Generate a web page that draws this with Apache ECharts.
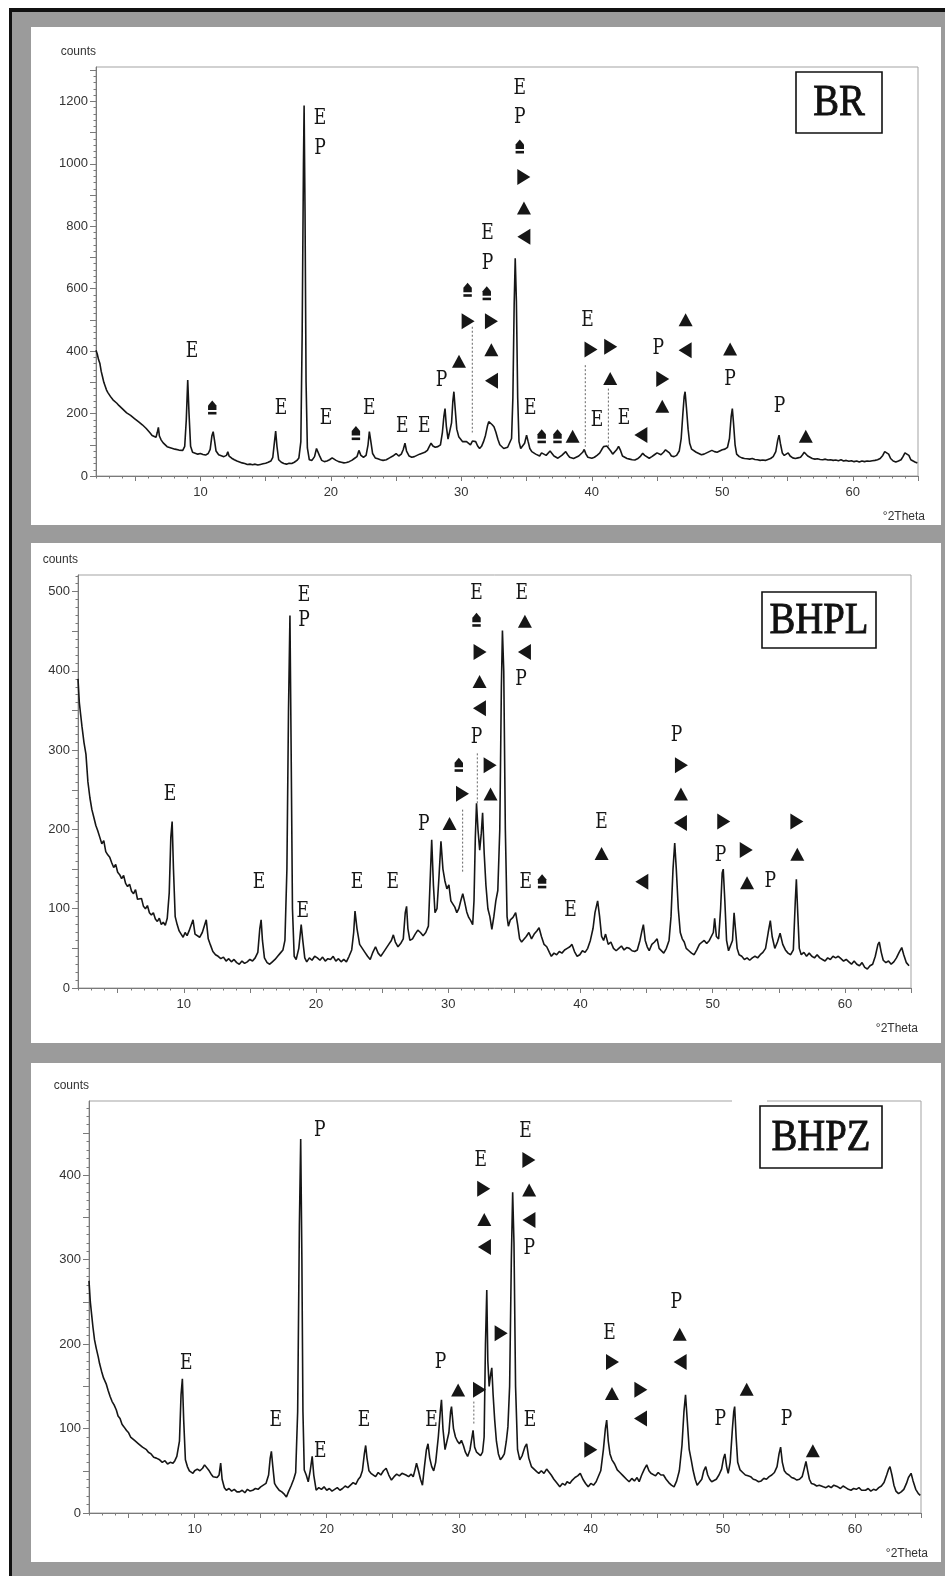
<!DOCTYPE html>
<html>
<head>
<meta charset="utf-8">
<script src="https://cdn.jsdelivr.net/npm/echarts@6/dist/echarts.min.js"></script>
<style>
  html, body { margin: 0; padding: 0; background: #fff; }
  #chart { width: 945px; height: 1576px; }
</style>
</head>
<body>
<div id="chart"></div>
<script>
// ---- Diffractogram BR: [2theta (deg), counts] ----
const brScan = [
[2.0,403],[2.1,390],[2.2,372],[2.3,360],[2.4,335],[2.5,318],[2.6,300],[2.7,288],[2.8,276],[2.9,268],
[3.0,262],[3.1,255],[3.2,250],[3.3,244],[3.45,238],[3.6,233],[3.75,226],[3.9,220],[4.05,214],[4.2,210],
[4.35,202],[4.5,198],[4.65,194],[4.8,188],[4.95,184],[5.1,178],[5.25,174],[5.4,169],[5.55,164],[5.7,158],
[5.85,152],[6.0,145],[6.15,138],[6.3,130],[6.45,126],[6.6,124],[6.7,140],[6.78,156],[6.86,128],[7.0,115],
[7.15,106],[7.3,100],[7.45,94],[7.6,96],[7.75,90],[7.9,92],[8.05,86],[8.2,88],[8.35,83],[8.5,85],
[8.65,82],[8.8,95],[8.92,180],[9.03,307],[9.13,200],[9.25,95],[9.4,76],[9.6,73],[9.8,70],[10.0,72],
[10.2,69],[10.4,67],[10.6,72],[10.75,85],[10.88,128],[10.98,142],[11.08,115],[11.2,80],[11.4,68],[11.6,65],
[11.8,62],[12.0,66],[12.1,78],[12.2,64],[12.4,57],[12.6,52],[12.8,48],[13.0,45],[13.2,42],[13.4,40],
[13.6,37],[13.8,38],[14.0,36],[14.2,38],[14.4,35],[14.6,37],[14.8,39],[15.0,41],[15.2,44],[15.4,48],
[15.55,60],[15.68,110],[15.77,144],[15.87,95],[16.0,52],[16.2,44],[16.4,40],[16.6,38],[16.8,41],[17.0,40],
[17.2,44],[17.4,50],[17.55,58],[17.7,110],[17.8,450],[17.9,1000],[17.95,1187],[18.02,850],[18.1,300],[18.2,90],
[18.35,52],[18.55,50],[18.75,62],[18.9,88],[19.0,94],[19.12,66],[19.3,50],[19.5,46],[19.7,48],[19.9,52],
[20.1,58],[20.25,60],[20.4,50],[20.6,46],[20.8,44],[21.0,42],[21.2,43],[21.4,46],[21.6,50],[21.8,56],
[22.0,62],[22.15,82],[22.3,66],[22.5,60],[22.7,66],[22.85,100],[22.95,142],[23.05,115],[23.2,72],[23.4,58],
[23.6,55],[23.8,52],[24.0,50],[24.25,52],[24.5,58],[24.75,64],[25.0,72],[25.2,64],[25.4,70],[25.55,85],
[25.68,105],[25.8,80],[26.0,64],[26.2,60],[26.4,62],[26.6,66],[26.8,70],[27.0,73],[27.2,76],[27.4,82],
[27.55,95],[27.68,105],[27.82,96],[28.0,92],[28.2,94],[28.4,100],[28.55,140],[28.66,190],[28.75,216],[28.85,160],
[28.98,118],[29.1,120],[29.25,170],[29.35,240],[29.43,270],[29.52,220],[29.65,150],[29.8,126],[29.95,120],[30.1,110],
[30.25,104],[30.4,110],[30.55,106],[30.7,100],[30.85,112],[30.97,118],[31.1,110],[31.25,96],[31.4,88],[31.55,95],
[31.7,110],[31.85,130],[32.0,160],[32.1,174],[32.22,168],[32.35,165],[32.5,158],[32.65,140],[32.8,118],[32.95,100],
[33.1,94],[33.25,88],[33.4,85],[33.55,92],[33.7,98],[33.85,120],[33.95,250],[34.05,550],[34.13,697],[34.22,560],
[34.32,250],[34.42,110],[34.55,88],[34.7,92],[34.85,105],[35.0,131],[35.12,110],[35.25,88],[35.4,78],[35.55,72],
[35.7,70],[35.85,66],[36.0,64],[36.15,74],[36.3,70],[36.5,66],[36.65,72],[36.8,80],[36.95,72],[37.1,64],
[37.25,60],[37.4,57],[37.55,62],[37.7,66],[37.85,72],[38.0,78],[38.15,68],[38.3,60],[38.45,57],[38.6,56],
[38.8,60],[39.0,64],[39.15,70],[39.3,76],[39.42,85],[39.55,70],[39.7,60],[39.85,56],[40.0,57],[40.2,60],
[40.4,66],[40.6,73],[40.75,84],[40.9,94],[41.0,99],[41.15,96],[41.3,94],[41.45,80],[41.6,70],[41.75,74],
[41.9,84],[42.05,95],[42.2,82],[42.35,64],[42.5,58],[42.7,56],[42.9,54],[43.1,52],[43.3,51],[43.5,55],
[43.7,62],[43.9,73],[44.05,66],[44.2,60],[44.4,57],[44.6,62],[44.8,68],[45.0,74],[45.15,70],[45.3,68],
[45.5,76],[45.65,84],[45.8,90],[45.95,74],[46.1,64],[46.3,62],[46.5,66],[46.7,80],[46.85,120],[46.98,200],
[47.08,255],[47.15,270],[47.25,220],[47.38,150],[47.5,105],[47.65,86],[47.8,80],[48.0,76],[48.2,72],[48.4,68],
[48.6,70],[48.8,74],[49.0,78],[49.2,82],[49.4,78],[49.6,76],[49.8,80],[50.0,84],[50.2,86],[50.4,92],
[50.55,120],[50.68,190],[50.77,216],[50.86,170],[50.98,100],[51.1,70],[51.3,62],[51.5,58],[51.7,56],[51.9,55],
[52.1,54],[52.3,56],[52.5,53],[52.7,52],[52.9,50],[53.1,51],[53.3,50],[53.5,53],[53.7,56],[53.9,62],
[54.1,78],[54.25,115],[54.35,131],[54.45,105],[54.6,74],[54.75,66],[54.9,72],[55.05,74],[55.2,64],[55.4,58],
[55.6,56],[55.8,58],[56.0,60],[56.15,68],[56.28,76],[56.4,72],[56.55,64],[56.7,58],[56.9,56],[57.1,54],
[57.3,55],[57.5,53],[57.7,52],[57.9,54],[58.1,51],[58.3,52],[58.5,50],[58.7,51],[58.9,49],[59.1,52],
[59.3,48],[59.5,50],[59.7,47],[59.9,49],[60.1,46],[60.3,48],[60.5,45],[60.7,48],[60.9,46],[61.1,48],
[61.3,47],[61.5,49],[61.7,50],[61.9,52],[62.1,56],[62.3,66],[62.45,78],[62.6,82],[62.75,70],[62.9,56],
[63.1,48],[63.3,45],[63.5,48],[63.7,52],[63.85,62],[64.0,74],[64.15,78],[64.3,66],[64.45,52],[64.6,46],
[64.8,44],[64.95,42]
];

// ---- Diffractogram BHPL ----
const bhplScan = [
[2.0,390],[2.1,360],[2.2,345],[2.3,330],[2.45,310],[2.6,295],[2.75,260],[2.9,240],[3.05,225],[3.2,215],
[3.35,205],[3.5,198],[3.65,190],[3.8,182],[3.95,186],[4.1,172],[4.25,168],[4.4,165],[4.55,158],[4.7,152],
[4.85,156],[5.0,146],[5.15,143],[5.3,138],[5.45,142],[5.6,132],[5.75,128],[5.9,131],[6.05,122],[6.2,119],
[6.35,124],[6.5,112],[6.65,110],[6.8,113],[6.95,103],[7.1,100],[7.25,104],[7.4,95],[7.55,92],[7.7,95],
[7.85,87],[8.0,84],[8.15,88],[8.3,80],[8.45,83],[8.6,79],[8.75,88],[8.9,120],[9.02,190],[9.12,210],
[9.22,150],[9.35,90],[9.5,80],[9.65,72],[9.8,68],[9.95,64],[10.1,70],[10.25,66],[10.4,72],[10.55,70],
[10.7,86],[10.85,68],[11.0,66],[11.2,64],[11.4,70],[11.55,68],[11.7,86],[11.85,62],[12.0,55],[12.2,46],
[12.4,42],[12.6,40],[12.8,37],[13.0,39],[13.2,34],[13.4,37],[13.6,33],[13.8,36],[14.0,32],[14.2,30],
[14.4,34],[14.6,31],[14.8,33],[15.0,36],[15.2,34],[15.4,38],[15.6,45],[15.75,75],[15.85,86],[15.95,60],
[16.1,38],[16.3,32],[16.5,30],[16.7,33],[16.9,36],[17.1,40],[17.3,44],[17.5,48],[17.65,60],[17.8,150],
[17.92,350],[18.03,470],[18.12,300],[18.22,100],[18.35,40],[18.5,36],[18.7,50],[18.88,80],[19.0,60],[19.15,38],
[19.3,33],[19.5,38],[19.7,35],[19.9,40],[20.1,38],[20.3,35],[20.5,39],[20.7,34],[20.9,37],[21.1,36],
[21.3,40],[21.5,34],[21.7,37],[21.9,33],[22.1,36],[22.3,33],[22.5,40],[22.7,48],[22.85,70],[22.95,97],
[23.1,75],[23.3,55],[23.5,50],[23.7,45],[23.9,40],[24.1,36],[24.3,45],[24.5,52],[24.7,44],[24.9,40],
[25.1,45],[25.3,50],[25.5,55],[25.7,60],[25.85,67],[26.0,58],[26.2,52],[26.4,56],[26.6,62],[26.75,95],
[26.85,103],[26.95,75],[27.1,60],[27.3,62],[27.5,68],[27.7,73],[27.9,70],[28.1,66],[28.3,70],[28.5,78],
[28.62,130],[28.75,187],[28.88,130],[29.0,95],[29.15,100],[29.3,140],[29.45,185],[29.6,150],[29.75,135],[29.9,125],
[30.05,130],[30.2,110],[30.35,112],[30.5,102],[30.65,95],[30.8,100],[30.95,110],[31.1,119],[31.25,108],[31.4,96],
[31.55,89],[31.7,85],[31.85,80],[31.95,110],[32.05,190],[32.14,233],[32.25,200],[32.38,174],[32.5,195],[32.6,221],
[32.72,170],[32.85,130],[33.0,100],[33.15,90],[33.3,74],[33.45,90],[33.6,110],[33.75,123],[33.9,200],[34.02,380],
[34.1,451],[34.2,400],[34.32,200],[34.45,90],[34.55,78],[34.7,86],[34.9,89],[35.1,95],[35.25,80],[35.4,62],
[35.55,58],[35.7,60],[35.9,65],[36.1,70],[36.3,62],[36.5,68],[36.7,72],[36.87,76],[37.05,65],[37.25,55],
[37.45,52],[37.65,45],[37.8,40],[38.0,44],[38.2,42],[38.4,46],[38.6,44],[38.8,48],[39.0,50],[39.2,52],
[39.36,55],[39.55,46],[39.75,40],[39.95,42],[40.15,47],[40.35,45],[40.55,50],[40.75,60],[40.95,75],[41.1,95],
[41.3,110],[41.45,90],[41.6,65],[41.75,60],[41.9,68],[42.1,55],[42.3,58],[42.5,50],[42.7,47],[42.9,50],
[43.1,53],[43.3,48],[43.5,51],[43.7,50],[43.9,47],[44.1,46],[44.3,48],[44.5,60],[44.65,72],[44.76,80],
[44.9,60],[45.05,52],[45.2,47],[45.4,55],[45.6,58],[45.8,62],[45.95,50],[46.1,48],[46.3,44],[46.5,50],
[46.7,60],[46.85,90],[47.0,150],[47.13,183],[47.25,150],[47.4,100],[47.55,70],[47.7,62],[47.85,58],[48.0,50],
[48.2,47],[48.4,44],[48.6,42],[48.8,48],[49.0,55],[49.2,58],[49.36,60],[49.55,56],[49.75,60],[49.9,58],
[50.05,70],[50.15,88],[50.28,65],[50.45,62],[50.6,100],[50.72,145],[50.8,150],[50.92,110],[51.05,60],[51.2,47],
[51.35,45],[51.5,60],[51.62,95],[51.72,75],[51.85,50],[52.0,42],[52.2,40],[52.4,36],[52.6,38],[52.8,35],
[53.0,38],[53.2,40],[53.4,38],[53.6,42],[53.8,45],[54.0,50],[54.2,70],[54.36,85],[54.5,65],[54.7,50],
[54.9,58],[55.1,69],[55.3,55],[55.5,48],[55.7,44],[55.9,42],[56.1,48],[56.25,110],[56.33,137],[56.42,100],
[56.55,50],[56.7,42],[56.9,45],[57.1,40],[57.3,44],[57.5,40],[57.7,38],[57.9,42],[58.1,38],[58.3,36],
[58.5,34],[58.7,38],[58.9,36],[59.1,40],[59.3,38],[59.5,40],[59.7,37],[59.9,34],[60.1,36],[60.3,33],
[60.5,30],[60.7,34],[60.9,30],[61.1,28],[61.3,32],[61.5,26],[61.7,24],[61.9,28],[62.1,30],[62.3,40],
[62.5,55],[62.6,58],[62.75,45],[62.9,35],[63.1,32],[63.3,34],[63.5,30],[63.7,33],[63.9,38],[64.1,45],
[64.3,51],[64.45,42],[64.65,32],[64.85,28]
];

// ---- Diffractogram BHPZ ----
const bhpzScan = [
[2.0,275],[2.1,250],[2.2,235],[2.3,220],[2.42,205],[2.55,195],[2.7,185],[2.8,177],[2.95,168],[3.1,160],
[3.3,153],[3.45,145],[3.6,138],[3.75,132],[3.9,128],[4.07,122],[4.2,115],[4.35,112],[4.5,105],[4.65,102],
[4.83,98],[5.0,95],[5.15,90],[5.3,92],[5.45,86],[5.6,86],[5.75,82],[5.9,80],[6.05,78],[6.2,76],
[6.35,75],[6.5,72],[6.7,70],[6.9,66],[7.1,65],[7.35,63],[7.55,60],[7.75,62],[7.95,58],[8.15,60],
[8.36,59],[8.5,62],[8.65,67],[8.85,85],[8.97,140],[9.07,159],[9.17,110],[9.3,63],[9.45,55],[9.6,50],
[9.75,48],[9.87,47],[10.0,50],[10.2,52],[10.4,50],[10.6,53],[10.75,57],[10.9,55],[11.1,50],[11.25,46],
[11.4,43],[11.55,45],[11.7,42],[11.85,45],[11.97,59],[12.08,40],[12.25,30],[12.4,27],[12.6,29],[12.8,26],
[13.0,28],[13.2,25],[13.4,25],[13.6,27],[13.8,24],[14.0,28],[14.2,26],[14.4,27],[14.6,29],[14.8,28],
[15.0,31],[15.2,33],[15.4,35],[15.6,45],[15.72,65],[15.81,73],[15.92,55],[16.05,35],[16.2,31],[16.4,27],
[16.6,25],[16.8,22],[16.95,19],[17.1,25],[17.3,32],[17.5,40],[17.65,48],[17.8,120],[17.93,340],[18.03,443],
[18.12,300],[18.2,120],[18.3,51],[18.45,45],[18.6,37],[18.75,50],[18.9,67],[19.02,45],[19.2,27],[19.4,30],
[19.6,28],[19.8,31],[20.0,27],[20.2,29],[20.4,26],[20.6,28],[20.8,30],[21.0,27],[21.2,29],[21.4,32],
[21.6,30],[21.8,33],[22.0,36],[22.2,34],[22.4,40],[22.55,43],[22.7,50],[22.85,70],[22.95,80],[23.05,65],
[23.2,50],[23.35,47],[23.5,45],[23.7,43],[23.9,48],[24.1,45],[24.3,50],[24.5,53],[24.7,45],[24.9,39],
[25.1,43],[25.3,46],[25.5,44],[25.7,47],[25.85,49],[26.0,45],[26.2,43],[26.4,46],[26.55,43],[26.7,52],
[26.8,59],[26.95,50],[27.1,40],[27.25,33],[27.4,55],[27.55,75],[27.67,82],[27.8,65],[27.95,55],[28.1,50],
[28.25,60],[28.45,90],[28.6,120],[28.69,134],[28.8,100],[28.96,75],[29.1,73],[29.25,95],[29.38,120],[29.45,126],
[29.6,100],[29.75,90],[29.9,85],[30.05,82],[30.2,86],[30.35,80],[30.5,72],[30.67,67],[30.85,75],[31.0,90],
[31.08,98],[31.2,78],[31.35,72],[31.5,70],[31.65,68],[31.8,72],[31.92,90],[32.02,200],[32.12,264],[32.2,180],
[32.3,150],[32.42,165],[32.5,172],[32.6,140],[32.72,110],[32.85,85],[33.0,70],[33.15,63],[33.3,66],[33.45,70],
[33.6,85],[33.72,102],[33.85,150],[33.98,300],[34.08,380],[34.18,320],[34.3,150],[34.45,75],[34.62,63],[34.8,68],
[35.0,78],[35.14,82],[35.3,65],[35.5,55],[35.7,52],[35.9,49],[36.06,47],[36.25,50],[36.45,47],[36.65,52],
[36.8,51],[37.0,45],[37.2,40],[37.4,36],[37.65,31],[37.85,35],[38.05,33],[38.2,37],[38.4,35],[38.6,39],
[38.8,42],[39.0,44],[39.2,47],[39.4,40],[39.6,35],[39.8,31],[40.0,35],[40.2,33],[40.4,37],[40.55,39],
[40.75,50],[40.95,75],[41.1,100],[41.2,110],[41.32,85],[41.45,70],[41.6,63],[41.8,58],[42.0,51],[42.2,48],
[42.45,44],[42.7,40],[42.9,37],[43.1,41],[43.3,38],[43.5,42],[43.66,37],[43.85,45],[44.05,52],[44.23,57],
[44.4,50],[44.55,47],[44.7,47],[44.9,44],[45.1,48],[45.3,45],[45.5,45],[45.7,40],[45.9,36],[46.1,33],
[46.3,31],[46.5,38],[46.7,50],[46.9,80],[47.05,120],[47.17,140],[47.3,110],[47.45,75],[47.6,63],[47.75,50],
[47.9,40],[48.05,33],[48.2,31],[48.4,40],[48.55,50],[48.7,55],[48.85,45],[49.0,40],[49.15,37],[49.3,35],
[49.5,40],[49.7,45],[49.9,52],[50.05,65],[50.15,70],[50.28,55],[50.4,47],[50.55,60],[50.72,100],[50.82,120],
[50.89,126],[51.0,90],[51.12,60],[51.3,51],[51.5,48],[51.7,45],[51.9,44],[52.1,43],[52.3,40],[52.5,39],
[52.7,37],[52.9,38],[53.1,41],[53.3,40],[53.5,43],[53.7,45],[53.9,48],[54.1,55],[54.25,70],[54.37,78],
[54.5,60],[54.65,50],[54.8,47],[55.0,45],[55.2,42],[55.4,41],[55.6,39],[55.8,40],[56.0,43],[56.15,52],
[56.29,61],[56.42,50],[56.55,40],[56.7,35],[56.9,34],[57.1,32],[57.3,33],[57.6,31],[57.8,30],[58.0,32],
[58.2,30],[58.4,33],[58.7,31],[58.9,29],[59.1,32],[59.3,30],[59.5,28],[59.7,27],[59.9,29],[60.1,28],
[60.3,30],[60.5,27],[60.8,27],[61.0,29],[61.2,26],[61.4,28],[61.6,27],[61.8,30],[62.0,32],[62.2,36],
[62.4,45],[62.55,52],[62.65,55],[62.8,45],[62.95,33],[63.1,26],[63.3,23],[63.5,25],[63.7,28],[63.9,35],
[64.05,42],[64.25,47],[64.4,38],[64.6,28],[64.8,23],[64.95,21]
];

// ---- Phase markers: [2theta, counts, glyph]
// E, P = letters; S = eject-like mark; R = right triangle; U = up triangle; L = left triangle
const brMarks = [
[9.36,398,'E'],[10.91,213,'S'],[16.18,217,'E'],[19.17,1145,'E'],[19.17,1049,'P'],[19.62,185,'E'],
[21.92,131,'S'],[22.94,217,'E'],[25.47,158,'E'],[27.16,158,'E'],[28.49,307,'P'],[29.82,366,'U'],
[30.48,496,'R'],[30.48,590,'S'],
[32.0,777,'E'],[32.0,681,'P'],[31.95,579,'S'],[32.27,496,'R'],[32.3,403,'U'],[32.35,305,'L'],
[34.48,1241,'E'],[34.48,1150,'P'],[34.48,1049,'S'],[34.75,958,'R'],[34.8,857,'U'],[34.83,766,'L'],
[35.28,216,'E'],[36.16,121,'S'],[37.37,121,'S'],[38.53,126,'U'],[39.68,499,'E'],[39.9,405,'R'],
[41.41,414,'R'],[41.41,311,'U'],[40.4,179,'E'],[42.47,185,'E'],[43.8,131,'L'],
[45.09,409,'P'],[45.4,311,'R'],[45.4,222,'U'],[47.19,499,'U'],[47.19,403,'L'],
[50.6,405,'U'],[50.6,311,'P'],[54.38,222,'P'],[56.4,126,'U']
];
const bhplMarks = [
[8.96,244,'E'],[15.69,133,'E'],[19.1,496,'E'],[19.1,464,'P'],[18.99,97,'E'],[23.1,133,'E'],[25.8,133,'E'],
[28.15,207,'P'],[30.1,207,'U'],[31.04,245,'R'],[30.8,279,'S'],
[32.14,498,'E'],[32.14,462,'S'],[32.37,424,'R'],[32.37,386,'U'],[32.4,353,'L'],[32.14,316,'P'],
[33.13,281,'R'],[33.2,244,'U'],
[35.56,498,'E'],[35.8,462,'U'],[35.8,424,'L'],[35.5,389,'P'],
[35.87,133,'E'],[37.1,132,'S'],[39.24,98,'E'],[41.6,209,'E'],[41.6,169,'U'],[44.68,134,'L'],
[47.27,319,'P'],[47.6,281,'R'],[47.6,244,'U'],[47.6,208,'L'],
[50.8,210,'R'],[50.6,168,'P'],[52.5,174,'R'],[52.6,132,'U'],[54.36,134,'P'],[56.33,210,'R'],[56.4,168,'U']
];
const bhpzMarks = [
[9.37,177,'E'],[16.14,110,'E'],[19.47,453,'P'],[19.52,73,'E'],[22.83,110,'E'],[27.93,110,'E'],
[28.62,179,'P'],[29.95,145,'U'],[31.53,146,'R'],
[31.67,418,'E'],[31.85,384,'R'],[31.93,347,'U'],[31.98,315,'L'],
[33.17,213,'R'],
[35.06,452,'E'],[35.27,418,'R'],[35.33,382,'U'],[35.35,347,'L'],[35.33,314,'P'],
[35.4,110,'E'],[39.96,75,'R'],[41.41,213,'E'],[41.6,179,'R'],[41.6,141,'U'],[43.75,146,'R'],[43.8,112,'L'],
[46.46,250,'P'],[46.73,211,'U'],[46.8,179,'L'],[49.8,111,'P'],[51.8,146,'U'],[54.81,111,'P'],[56.81,73,'U']
];

// ---- Dotted leader lines: [2theta, counts from, counts to] ----
const brGuides = [[30.84,478,139],[39.5,355,94],[41.27,280,94]];
const bhplGuides = [[31.09,225,145],[32.2,296,233]];
const bhpzGuides = [[31.14,132,104]];

// ---- Axis labels ----
const thetaLabels = [10,20,30,40,50,60];
const brCountLabels = [0,200,400,600,800,1000,1200];
const bhplCountLabels = [0,100,200,300,400,500];
const bhpzCountLabels = [0,100,200,300,400];

// ---- Panel layout (pixels) ----
const panels = [
  { title: 'BR', scan: brScan, marks: brMarks, guides: brGuides, yLabels: brCountLabels,
    yMax: 1310, yMid: 100, yFine: 20,
    card: [31, 27, 910, 498], grid: { left: 96, top: 67, width: 822, height: 409 }, box: [796, 72, 86, 61] },
  { title: 'BHPL', scan: bhplScan, marks: bhplMarks, guides: bhplGuides, yLabels: bhplCountLabels,
    yMax: 521, yMid: 50, yFine: 10,
    card: [31, 543, 910, 500], grid: { left: 78, top: 575, width: 833, height: 413 }, box: [762, 592, 114, 56] },
  { title: 'BHPZ', scan: bhpzScan, marks: bhpzMarks, guides: bhpzGuides, yLabels: bhpzCountLabels,
    yMax: 488, yMid: 50, yFine: 10,
    card: [31, 1063, 910, 499], grid: { left: 89, top: 1101, width: 832, height: 412 }, box: [760, 1106, 122, 62] }
];

const INK = '#161616';
const AXIS = '#7a7a7a';
const TICK_FONT = 'Liberation Sans';

function steps(from, to, step) {
  const out = [];
  for (let v = from; v <= to + 1e-9; v += step) out.push(Math.round(v * 100) / 100);
  return out;
}

const SHAPES = {
  U: [[0, -7], [7, 6], [-7, 6]],
  R: [[-6, -8], [7, 0], [-6, 8]],
  L: [[6, -8], [-7, 0], [6, 8]]
};

function glyph(kind, pt) {
  const x = pt[0], y = pt[1];
  if (kind === 'E' || kind === 'P') {
    return {
      type: 'text', x: x, y: y, scaleX: 0.78,
      style: { text: kind, font: '22px "DejaVu Serif"', fill: INK,
               align: 'center', verticalAlign: 'middle', textAlign: 'center', textVerticalAlign: 'middle' }
    };
  }
  if (kind === 'S') {
    return {
      type: 'group', x: x, y: y,
      children: [
        { type: 'polygon', shape: { points: [[0, -9], [4.2, -4], [4.2, 0.5], [-4.2, 0.5], [-4.2, -4]] }, style: { fill: INK } },
        { type: 'rect', shape: { x: -4.2, y: 2.4, width: 8.4, height: 2.6 }, style: { fill: INK } }
      ]
    };
  }
  return { type: 'polygon', x: x, y: y, shape: { points: SHAPES[kind] }, style: { fill: INK } };
}

const grids = [], xAxes = [], yAxes = [], series = [];
const graphics = [
  { type: 'rect', z: -30, shape: { x: 9, y: 8, width: 936, height: 1568 }, style: { fill: '#111' } },
  { type: 'rect', z: -29, shape: { x: 12, y: 12, width: 933, height: 1564 }, style: { fill: '#9b9b9b' } }
];

panels.forEach(function (p, i) {
  const g = p.grid;
  grids.push({ left: g.left, top: g.top, width: g.width, height: g.height, show: true,
               borderColor: '#a3a3a3', borderWidth: 1, backgroundColor: 'transparent', outerBoundsMode: 'none' });

  const xi = xAxes.length;
  xAxes.push({
    type: 'value', gridIndex: i, min: 2, max: 65, position: 'bottom',
    axisLine: { show: true, onZero: false, lineStyle: { color: AXIS, width: 1 } },
    axisTick: { show: true, customValues: steps(5, 65, 5), length: 5, lineStyle: { color: AXIS } },
    axisLabel: { show: true, customValues: thetaLabels, margin: 10, color: '#333', fontSize: 13, fontFamily: TICK_FONT,
                 formatter: function (v) { return String(v); } },
    splitLine: { show: false }
  });
  xAxes.push({
    type: 'value', gridIndex: i, min: 2, max: 65, position: 'bottom',
    axisLine: { show: false },
    axisTick: { show: true, customValues: steps(2, 65, 1), length: 2.5, lineStyle: { color: AXIS } },
    axisLabel: { show: false }, splitLine: { show: false }
  });

  const yi = yAxes.length;
  yAxes.push({
    type: 'value', gridIndex: i, min: 0, max: p.yMax, position: 'left',
    axisLine: { show: true, lineStyle: { color: AXIS, width: 1 } },
    axisTick: { show: true, customValues: steps(0, p.yMax, p.yMid), length: 6, lineStyle: { color: AXIS } },
    axisLabel: { show: true, customValues: p.yLabels, margin: 8, color: '#333', fontSize: 13, fontFamily: TICK_FONT,
                 formatter: function (v) { return String(v); } },
    splitLine: { show: false }
  });
  yAxes.push({
    type: 'value', gridIndex: i, min: 0, max: p.yMax, position: 'left',
    axisLine: { show: false },
    axisTick: { show: true, customValues: steps(0, p.yMax, p.yFine), length: 2.5, lineStyle: { color: AXIS } },
    axisLabel: { show: false }, splitLine: { show: false }
  });

  series.push({
    type: 'line', xAxisIndex: xi, yAxisIndex: yi, data: p.scan,
    showSymbol: false, symbol: 'none', smooth: false, animation: false,
    lineStyle: { color: INK, width: 1.6 }, z: 3
  });
  series.push({
    type: 'custom', xAxisIndex: xi, yAxisIndex: yi, animation: false, silent: true, z: 4,
    encode: { x: 0, y: [1, 2] },
    data: p.guides,
    renderItem: function (params, api) {
      const a = api.coord([api.value(0), api.value(1)]);
      const b = api.coord([api.value(0), api.value(2)]);
      return { type: 'line', shape: { x1: a[0], y1: a[1], x2: b[0], y2: b[1] },
               style: { stroke: '#666', lineWidth: 1, lineDash: [2, 2] } };
    }
  });
  series.push({
    type: 'custom', xAxisIndex: xi, yAxisIndex: yi, animation: false, silent: true, z: 5,
    data: p.marks.map(function (m) { return [m[0], m[1]]; }),
    renderItem: function (params, api) {
      return glyph(p.marks[params.dataIndex][2], api.coord([api.value(0), api.value(1)]));
    }
  });

  // panel card, axis titles and sample tag
  graphics.push({ type: 'rect', z: -28, shape: { x: p.card[0], y: p.card[1], width: p.card[2], height: p.card[3] }, style: { fill: '#fff' } });
  graphics.push({ type: 'text', z: 20, x: g.left, y: g.top - 15,
    style: { text: 'counts', font: '12px "Liberation Sans"', fill: '#333', align: 'right', verticalAlign: 'middle', textAlign: 'right', textVerticalAlign: 'middle' } });
  graphics.push({ type: 'text', z: 20, x: g.left + g.width + 7, y: g.top + g.height + 41,
    style: { text: '°2Theta', font: '12px "Liberation Sans"', fill: '#333', align: 'right', verticalAlign: 'middle', textAlign: 'right', textVerticalAlign: 'middle' } });
  const bx = p.box;
  graphics.push({ type: 'rect', z: 30, shape: { x: bx[0], y: bx[1], width: bx[2], height: bx[3] },
    style: { fill: '#fff', stroke: '#111', lineWidth: 1.6 } });
  graphics.push({ type: 'text', z: 31, x: bx[0] + bx[2] / 2, y: bx[1] + bx[3] / 2 + 1, scaleX: 0.86,
    style: { text: p.title, font: '45px "Liberation Serif"', fill: '#111', stroke: '#111', lineWidth: 0.9,
             align: 'center', verticalAlign: 'middle', textAlign: 'center', textVerticalAlign: 'middle' } });
});

// break in the upper frame line of the last panel
graphics.push({ type: 'rect', z: 25, shape: { x: 732, y: 1099, width: 35, height: 4 }, style: { fill: '#fff' } });

const chart = echarts.init(document.getElementById('chart'), null, { renderer: 'canvas', width: 945, height: 1576 });
chart.setOption({
  backgroundColor: '#fff',
  animation: false,
  grid: grids,
  xAxis: xAxes,
  yAxis: yAxes,
  series: series,
  graphic: { elements: graphics }
});
</script>
</body>
</html>
